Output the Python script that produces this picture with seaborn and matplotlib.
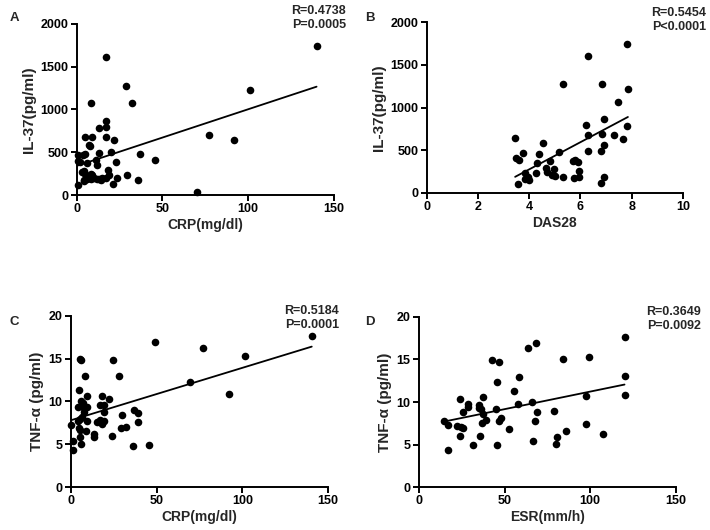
import numpy as np
import pandas as pd
import seaborn as sns
import matplotlib.pyplot as plt

# panel A: CRP vs IL-37
crp_a = [140, 17, 29, 32, 8.5, 101, 77, 92, 17, 17, 13, 5, 9, 17, 21.5, 7, 8,
         13, 20, 5, 0.5, 3.5, 37, 45.5, 1, 11, 6, 12, 23, 3, 4.5, 8.5, 18, 19,
         6, 29.5, 23.5, 15, 12, 8.5, 4.5, 0.5, 21, 36, 70, 10, 6, 14, 17, 5, 9,
         2, 4, 13]
il37_a = [1740, 1610, 1275, 1070, 1080, 1225, 700, 640, 865, 800, 785, 680, 680,
          680, 640, 585, 570, 490, 500, 480, 470, 465, 485, 410, 395, 410, 370,
          355, 385, 270, 280, 240, 290, 235, 220, 230, 195, 200, 185, 190, 170,
          115, 130, 170, 40, 200, 190, 180, 195, 250, 230, 390, 160, 190]

# panel B: DAS28 vs IL-37
das28 = [7.8, 6.3, 5.3, 6.85, 7.85, 7.45, 6.9, 6.2, 7.8, 6.3, 6.85, 7.3, 7.65,
         6.9, 3.45, 4.55, 5.15, 6.3, 6.8, 3.75, 3.5, 3.6, 4.4, 4.3, 4.8, 5.7,
         5.8, 5.9, 4.65, 4.7, 4.95, 3.85, 4.25, 3.95, 4.0, 3.55, 3.85, 5.0, 5.3,
         5.75, 5.95, 5.95, 6.9, 6.8, 4.9]
il37_b = [1740, 1610, 1275, 1275, 1220, 1065, 865, 795, 780, 680, 690, 675, 635,
          565, 640, 580, 480, 490, 495, 465, 410, 380, 460, 355, 375, 375, 390,
          360, 290, 245, 285, 235, 230, 190, 150, 110, 160, 200, 190, 175, 190,
          260, 190, 115, 210]

# panel C: CRP vs TNF-a
crp_c = [140.5, 49, 77, 101.5, 69.5, 92.5, 5, 6, 24.3, 8, 28.2, 4.5, 9.1, 18,
         22, 6, 7.2, 17, 19.2, 4.3, 6.8, 9.5, 19.2, 7.8, 37, 38.9, 30, 6.2, 5.2,
         0.2, 4, 9.5, 15.3, 17, 18, 19.2, 39, 4.8, 5.3, 8.7, 32, 29, 13.6, 13.6,
         24, 5.2, 1.2, 5.6, 1.4, 36.3, 45.8]
tnf_c = [17.6, 16.9, 16.3, 15.3, 12.3, 10.85, 15.0, 14.8, 14.9, 13.0, 12.95,
         11.3, 10.6, 10.6, 10.25, 10.0, 9.8, 9.6, 9.6, 9.4, 9.4, 9.35, 8.8, 8.75,
         9.05, 8.7, 8.45, 8.2, 8.0, 7.3, 7.75, 7.75, 7.55, 7.8, 7.4, 7.75, 7.65,
         6.85, 6.7, 6.5, 7.0, 6.85, 6.2, 5.8, 5.95, 5.9, 5.35, 4.98, 4.3, 4.8,
         4.9]

# panel D: ESR vs TNF-a
esr = [120, 68.5, 63.7, 99, 84, 42.7, 46.5, 120, 58.5, 45.8, 55.7, 120, 97.8,
       23.8, 37.6, 66, 58, 28.4, 28.8, 35, 34.9, 36.2, 44.8, 25.7, 68.8, 78.7,
       37.6, 39.4, 37, 47.7, 46.7, 67.8, 14.6, 16.8, 22.2, 24.7, 25.7, 52.6,
       97.8, 85.9, 107.7, 80.6, 23.8, 35.5, 66.6, 79.9, 31.8, 45.8, 17]
tnf_d = [17.6, 16.9, 16.35, 15.3, 15.0, 14.9, 14.7, 13.0, 12.95, 12.35, 11.35,
         10.85, 10.65, 10.3, 10.6, 10.0, 9.75, 9.73, 9.37, 9.6, 9.33, 9.14, 9.14,
         8.8, 8.86, 8.9, 8.55, 7.84, 7.53, 8.1, 7.8, 7.8, 7.75, 7.3, 7.14, 7.06,
         6.9, 6.86, 7.4, 6.55, 6.24, 5.88, 5.96, 6.0, 5.45, 5.06, 4.98, 4.9, 4.4]

sns.set_style("ticks")
plt.rcParams['font.family'] = ['Liberation Sans', 'DejaVu Sans']
plt.rcParams['font.weight'] = 'bold'
plt.rcParams['axes.linewidth'] = 1.4
plt.rcParams['xtick.major.width'] = 1.4
plt.rcParams['ytick.major.width'] = 1.4
plt.rcParams['xtick.major.size'] = 4
plt.rcParams['ytick.major.size'] = 4
plt.rcParams['xtick.color'] = 'black'
plt.rcParams['ytick.color'] = 'black'
plt.rcParams['axes.edgecolor'] = 'black'

fig = plt.figure(figsize=(7.1, 5.3), dpi=100)

panels = [
    # letter, x, y, rect, xlim, xticks, ylim, yticks, xlabel, ylabel, stats, text pos, letter pos
    ("A", crp_a, il37_a, [0.108, 0.632, 0.362, 0.323], (0, 150), [0, 50, 100, 150],
     (0, 2000), [0, 500, 1000, 1500, 2000], "CRP(mg/dl)", "IL-37(pg/ml)",
     "R=0.4738\nP=0.0005", (1.047, 1.11), (10, 18)),
    ("B", das28, il37_b, [0.601, 0.636, 0.361, 0.322], (0, 10), [0, 2, 4, 6, 8, 10],
     (0, 2000), [0, 500, 1000, 1500, 2000], "DAS28", "IL-37(pg/ml)",
     "R=0.5454\nP<0.0001", (1.09, 1.09), (365, 18)),
    ("C", crp_c, tnf_c, [0.100, 0.081, 0.362, 0.323], (0, 150), [0, 50, 100, 150],
     (0, 20), [0, 5, 10, 15, 20], "CRP(mg/dl)", "TNF-α (pg/ml)",
     "R=0.5184\nP=0.0001", (1.043, 1.064), (10, 322)),
    ("D", esr, tnf_d, [0.590, 0.081, 0.362, 0.321], (0, 150), [0, 50, 100, 150],
     (0, 20), [0, 5, 10, 15, 20], "ESR(mm/h)", "TNF-α (pg/ml)",
     "R=0.3649\nP=0.0092", (1.097, 1.064), (365, 322)),
]

for (letter, xs, ys, rect, xlim, xticks, ylim, yticks, xlab, ylab,
     stats, tpos, lpos) in panels:
    ax = fig.add_axes(rect)
    df = pd.DataFrame({"x": xs, "y": ys})
    sns.regplot(data=df, x="x", y="y", ax=ax, ci=None, color="black",
                scatter_kws={"s": 30, "alpha": 1, "linewidths": 0, "clip_on": False},
                line_kws={"linewidth": 1.3})
    ax.set_xlim(*xlim)
    ax.set_ylim(*ylim)
    ax.set_xticks(xticks)
    ax.set_yticks(yticks)
    ax.tick_params(labelsize=9, pad=2)
    for lab in ax.get_xticklabels() + ax.get_yticklabels():
        lab.set_fontweight('bold')
    ax.set_xlabel(xlab, fontsize=10, fontweight='bold', labelpad=2)
    ax.set_ylabel(ylab, fontsize=11, fontweight='bold', labelpad=3)
    sns.despine(ax=ax)
    ax.text(tpos[0], tpos[1], stats, transform=ax.transAxes, ha="right", va="top",
            fontsize=9, fontweight="bold", linespacing=1.25)
    fig.text(lpos[0] / 710, 1 - lpos[1] / 530, letter, fontsize=9.5,
             fontweight="bold", ha="left", va="center")

fig.savefig("out.png", dpi=100)
